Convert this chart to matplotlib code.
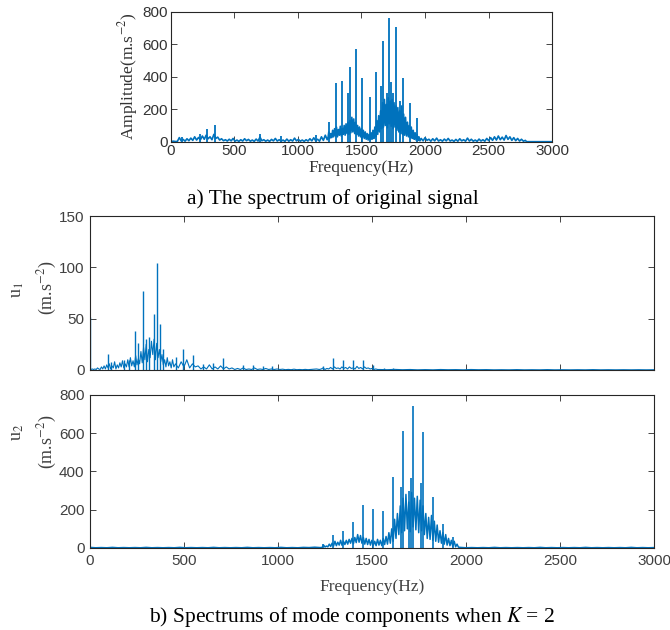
import numpy as np
import matplotlib
matplotlib.use("Agg")
import matplotlib.pyplot as plt

plt.rcParams['mathtext.fontset'] = 'stix'

line_color = "#0072BD"
axis_color = "#262626"
tick_color = "#404040"

xticks = [0, 500, 1000, 1500, 2000, 2500, 3000]

# ---- original signal spectrum (a) ----
# noise segments: (start Hz, stop Hz, amplitudes)
orig_low = [2, 3, 1, 2, 25, 5, 14, 3, 18, 6,
            22, 8, 30, 10, 26, 12, 35, 15, 40, 18,
            30, 12, 45, 20, 28, 10, 18, 6, 12, 4,
            15, 5, 20, 3, 10, 2, 12, 4, 18, 6,
            14, 3, 10, 2, 16, 4, 28, 6, 12, 3,
            10, 2, 14, 5, 20, 4, 12, 3, 10, 2,
            16, 3, 12, 4, 22, 5, 14, 3, 10, 2,
            12, 4, 18, 5, 24, 6, 15, 3, 30, 8,
            40, 12]
orig_band = [15, 60, 20, 50,
             25, 70, 30, 80, 35,
             90, 30, 75, 40, 95, 35, 80,
             45, 100, 40, 110, 50, 120, 45,
             130, 55, 150, 60, 140, 50, 120, 45,
             100, 35, 90, 30, 80, 25, 70, 20,
             60, 15, 50, 10, 45, 12, 55, 15, 70, 20, 90, 30,
             130, 45, 160, 60, 190,
             80, 240, 90, 260, 100, 230, 85, 270, 110, 250, 95, 260, 80, 240, 90, 220, 70,
             210, 60, 190, 50, 220, 45, 170, 40, 150,
             35, 120, 30, 100, 25, 90, 20,
             70, 15, 55, 10, 45, 8, 30, 5]
orig_high = [20, 5, 25, 8, 15, 3, 18, 5, 22, 4,
             12, 3, 16, 5, 20, 4, 10, 2, 14, 3,
             18, 5, 12, 3, 22, 4, 15, 3, 10, 2,
             16, 4, 12, 3, 20, 6, 25, 8, 30, 10,
             35, 12, 28, 10, 38, 14, 30, 8, 25, 6,
             20, 4, 15, 3, 8]
orig_tail = [0, 0]
orig_peak_f = [0, 84, 232, 281, 346, 700, 870, 1140,
               1244, 1297, 1346, 1391, 1407, 1454, 1507, 1564, 1617, 1655, 1667,
               1698, 1719, 1732, 1745, 1774, 1800, 1827, 1882, 1934]
orig_peak_a = [200, 30, 48, 80, 100, 45, 38, 42,
               123, 359, 373, 298, 458, 570, 394, 277, 431, 340, 621,
               298, 759, 369, 300, 704, 250, 394, 236, 144]

# ---- mode u1 ----
u1_low = [0.5, 1, 0.5, 1, 0.5, 2, 1, 0.5,
          3, 1, 4, 1, 5, 2,
          6, 1, 4, 2, 8, 1, 5, 2, 7, 3, 9, 2, 6, 3,
          10, 3, 12, 4, 9, 3, 14, 5, 11,
          6, 18, 7, 22, 10, 25, 8, 20, 12, 28, 15, 30, 10, 26, 12, 20, 8,
          15, 5, 10, 3, 12, 4, 8, 2, 10, 3]
u1_mid = [6, 2, 8, 3, 10, 2, 6, 3,
          4, 1, 3, 1, 5, 1, 3, 1, 4, 1, 3,
          1, 2, 0.5, 1.5, 0.5, 2, 0.5, 1, 0.5, 2, 0.5, 1, 0.5, 1.5, 0.5, 1, 0.5, 1,
          0.5, 0.8, 0.3, 0.6, 0.3, 0.8, 0.3, 0.5, 0.3, 0.6, 0.3, 0.5, 0.8, 1, 0.5]
u1_band = [1, 2, 0.5, 1.5, 1, 2.5, 1, 3, 1.5, 2,
           1, 3, 1.5, 2.5, 1, 3, 1.5, 2, 1, 3.5,
           1.5, 2.5, 1, 3, 1.5, 2, 1, 1.5, 0.5, 1,
           0.5]
u1_high = [0.5, 0.3, 0.6, 0.3, 0.5, 0.2, 0.4, 0.2, 0.5, 0.3,
           0.4, 0.2, 0.5, 0.3, 0.4, 0.2, 0.3, 0.2, 0.4, 0.2,
           0.3, 0.2, 0.4, 0.2, 0.3, 0.2, 0.3, 0.2, 0.4, 0.2,
           0.3, 0.2, 0.3, 0.2, 0.3, 0.2, 0.3]
u1_peak_f = [0, 96, 110, 181, 208, 238, 255, 282, 296, 312, 340, 356, 372, 388,
             459, 495, 548, 601, 654, 707, 814, 867, 920, 969,
             1238, 1293, 1346, 1399, 1454, 1507, 1565, 1610]
u1_peak_a = [52, 16, 8, 10, 10, 38, 26, 77, 30, 32, 55, 104, 45, 20,
             13, 20, 15, 6, 7, 12, 5, 5, 4, 4,
             4, 12, 10, 10, 10, 5, 2, 2]

# ---- mode u2 ----
u2_low = [3, 1, 2, 1, 3, 1, 2, 1, 2, 1,
          3, 1, 2, 1, 2, 1, 3, 1, 2, 1,
          2, 1, 3, 1, 2, 1, 2, 1, 3, 1,
          2, 1, 2, 1, 3, 1, 2, 1, 3, 2,
          4, 2]
u2_band = [3, 15, 5, 10,
           6, 20, 8, 25, 10,
           35, 12, 30, 15, 40, 14, 35,
           18, 40, 20, 45, 25, 50, 22,
           55, 28, 70, 30, 65, 25, 55, 20,
           50, 18, 45, 15, 40, 14, 35, 12,
           45, 15, 40, 12, 50, 18, 60, 20, 80, 25, 100, 35,
           150, 50, 180, 70, 220,
           80, 260, 90, 280, 100, 240, 85, 290, 110, 260, 95, 270, 80, 250, 90, 220, 70,
           180, 50, 160, 45, 170, 40, 140, 35, 120,
           30, 90, 25, 80, 20, 70, 15,
           50, 12, 40, 8, 35, 6, 20, 4]
u2_high = [3, 1, 2, 1, 2, 1, 3, 1, 2, 1,
           2, 1, 2, 1, 3, 1, 2, 1, 2, 1,
           2, 1, 3, 1, 2, 1, 2, 1, 2, 1,
           3, 1, 2, 1, 2]
u2_peak_f = [1240, 1294, 1348, 1399, 1452, 1505, 1559, 1613, 1655, 1667,
             1695, 1706, 1720, 1761, 1771, 1824, 1879, 1933]
u2_peak_a = [20, 68, 89, 138, 225, 204, 194, 373, 320, 609,
             300, 365, 740, 340, 605, 268, 124, 57]


def noise_line(segments):
    # noise bins of each segment laid out over its frequency range
    f = np.concatenate([np.linspace(lo, hi, len(v)) for lo, hi, v in segments])
    a = np.concatenate([np.asarray(v, dtype=float) for lo, hi, v in segments])
    return f, a


f0, a0 = noise_line([(5, 1230, orig_low), (1235, 1960, orig_band),
                     (1970, 2790, orig_high), (2800, 3000, orig_tail)])
f1, a1 = noise_line([(5, 446, u1_low), (455, 1220, u1_mid),
                     (1230, 1530, u1_band), (1540, 3000, u1_high)])
f2, a2 = noise_line([(0, 1225, u2_low), (1235, 1960, u2_band),
                     (1970, 3000, u2_high)])

fig = plt.figure(figsize=(6.7, 6.3), dpi=100)

sans = "Liberation Sans"
serif = "Liberation Serif"


def style(ax, ylim, yticks, labels=True):
    ax.set_xlim(0, 3000)
    ax.set_ylim(*ylim)
    ax.set_xticks(xticks)
    ax.set_yticks(yticks)
    ax.tick_params(direction="in", top=True, right=True, length=4,
                   width=0.6, colors=axis_color, labelcolor=tick_color,
                   labelsize=11, pad=4)
    for lab in ax.get_xticklabels() + ax.get_yticklabels():
        lab.set_fontfamily(sans)
    if not labels:
        ax.set_xticklabels([])
    for sp in ax.spines.values():
        sp.set_color(axis_color)
        sp.set_linewidth(0.8)


# (a) original signal
ax0 = fig.add_axes([0.2552, 0.7751, 0.5687, 0.2063])
ax0.plot(f0, a0, color=line_color, lw=1.2)
ax0.vlines(orig_peak_f, 0, orig_peak_a, color=line_color, lw=1.3)
style(ax0, (0, 800), [0, 200, 400, 600, 800])
ax0.tick_params(labelcolor="#333333", labelsize=11, pad=2)
ax0.set_xlabel("Frequency(Hz)", family=serif, fontsize=12.5, color="#333333", labelpad=1)
ax0.set_ylabel("Amplitude(m.s$^{-2}$)", family=serif, fontsize=12.5, color="#333333", labelpad=2)
fig.text(0.497, 1 - 199 / 630, "a) The spectrum of original signal", family=serif,
         fontsize=15.5, ha="center", va="center")

# (b) u1
ax1 = fig.add_axes([0.1343, 0.4127, 0.8418, 0.2444])
ax1.plot(f1, a1, color=line_color, lw=0.8)
ax1.vlines(u1_peak_f, 0, u1_peak_a, color=line_color, lw=1.0)
style(ax1, (0, 150), [0, 50, 100, 150], labels=False)
fig.text(17 / 670, 1 - 290 / 630, "u$_1$", family=serif, fontsize=13,
         color=tick_color, rotation=90, ha="center", va="center")
fig.text(47 / 670, 1 - 288 / 630, "(m.s$^{-2}$)", family=serif, fontsize=13,
         color=tick_color, rotation=90, ha="center", va="center")

# (b) u2
ax2 = fig.add_axes([0.1343, 0.1302, 0.8418, 0.2429])
ax2.plot(f2, a2, color=line_color, lw=1.1)
ax2.vlines(u2_peak_f, 0, u2_peak_a, color=line_color, lw=1.2)
style(ax2, (0, 800), [0, 200, 400, 600, 800])
ax2.set_xlabel("Frequency(Hz)", family=serif, fontsize=12.5, color=tick_color, labelpad=8)
fig.text(17 / 670, 1 - 432 / 630, "u$_2$", family=serif, fontsize=13,
         color=tick_color, rotation=90, ha="center", va="center")
fig.text(47 / 670, 1 - 442 / 630, "(m.s$^{-2}$)", family=serif, fontsize=13,
         color=tick_color, rotation=90, ha="center", va="center")
fig.text(0.525, 1 - 617 / 630, "b) Spectrums of mode components when $K$ = 2",
         family=serif, fontsize=15.5, ha="center", va="center")

fig.savefig("out.png", dpi=100)
